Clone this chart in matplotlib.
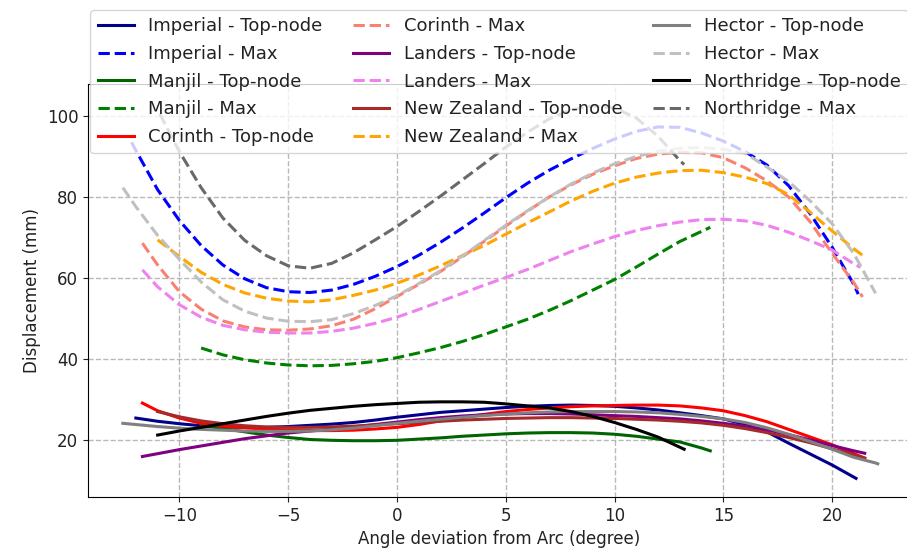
import matplotlib
matplotlib.use("Agg")
import matplotlib.pyplot as plt

# ---------------- data ----------------
imperial_top_x = [-12, -11, -10, -9, -8, -7, -6, -5, -4, -3, -2, -1, 0, 1, 2, 3, 4, 5, 6, 7, 8, 9, 10,
                  11, 12, 13, 14, 15, 16, 17, 18, 19, 20, 21, 21.1]
imperial_top_y = [25.4, 24.6, 24.0, 23.5, 23.2, 23.1, 23.1, 23.3, 23.6, 23.9, 24.3, 24.9, 25.6, 26.2, 26.8,
                  27.2, 27.6, 28.0, 28.3, 28.5, 28.6, 28.5, 28.3, 27.9, 27.4, 26.7, 26.0, 25.2, 23.8, 22.0,
                  19.2, 16.5, 13.8, 10.8, 10.5]

imperial_max_x = [-12.2, -12, -11, -10, -9, -8, -7, -6, -5, -4, -3, -2, -1, 0, 1, 2, 3, 4, 5, 6, 7, 8, 9,
                  10, 11, 12, 13, 14, 15, 16, 17, 18, 19, 20, 21, 21.2]
imperial_max_y = [93.5, 91.5, 81.8, 74.2, 68.0, 63.2, 59.8, 57.6, 56.6, 56.4, 57.0, 58.4, 60.4, 62.8, 65.6,
                  68.8, 72.3, 76.0, 79.8, 83.4, 86.6, 89.4, 92.0, 94.3, 96.2, 97.3, 97.2, 95.8, 93.8, 91.2,
                  87.9, 82.8, 75.8, 67.6, 58.4, 56.0]

manjil_top_x = [-9, -8, -7, -6, -5, -4, -3, -2, -1, 0, 1, 2, 3, 4, 5, 6, 7, 8, 9, 10, 11, 12, 13, 14, 14.4]
manjil_top_y = [23.6, 22.8, 22.0, 21.2, 20.6, 20.1, 19.9, 19.8, 19.8, 19.9, 20.2, 20.5, 20.9, 21.2, 21.5,
                21.7, 21.8, 21.8, 21.7, 21.4, 20.9, 20.2, 19.5, 18.0, 17.3]

manjil_max_x = [-9, -8, -7, -6, -5, -4, -3, -2, -1, 0, 1, 2, 3, 4, 5, 6, 7, 8, 9, 10, 11, 12, 13, 14, 14.4]
manjil_max_y = [42.7, 41.0, 39.8, 39.0, 38.5, 38.3, 38.4, 38.8, 39.4, 40.3, 41.5, 42.8, 44.3, 46.0, 47.9,
                49.8, 52.0, 54.4, 57.0, 59.6, 62.7, 65.9, 69.0, 71.5, 72.5]

corinth_top_x = [-11.7, -11, -10, -9, -8, -7, -6, -5, -4, -3, -2, -1, 0, 1, 2, 3, 4, 5, 6, 7, 8, 9, 10,
                 11, 12, 13, 14, 15, 16, 17, 18, 19, 20, 21, 21.5]
corinth_top_y = [29.1, 27.2, 25.4, 24.1, 23.4, 23.0, 22.6, 22.4, 22.3, 22.3, 22.4, 22.7, 23.1, 23.8, 24.7,
                 25.5, 26.3, 27.0, 27.5, 27.9, 28.2, 28.4, 28.5, 28.6, 28.6, 28.4, 27.9, 27.2, 26.0, 24.5,
                 22.6, 20.7, 18.8, 16.6, 15.5]

corinth_max_x = [-11.7, -11, -10, -9, -8, -7, -6, -5, -4, -3, -2, -1, 0, 1, 2, 3, 4, 5, 6, 7, 8, 9, 10,
                 11, 12, 13, 14, 15, 16, 17, 18, 19, 20, 21, 21.4]
corinth_max_y = [68.6, 63.2, 56.6, 52.3, 49.4, 47.9, 47.2, 47.1, 47.4, 48.2, 49.8, 52.4, 55.4, 58.4, 61.6,
                 65.2, 69.0, 72.8, 76.5, 80.0, 83.0, 85.6, 87.7, 89.5, 90.6, 91.0, 90.9, 89.7, 87.2, 84.0,
                 80.0, 73.8, 66.1, 58.8, 55.3]

landers_top_x = [-11.7, -11, -10, -9, -8, -7, -6, -5, -4, -3, -2, -1, 0, 1, 2, 3, 4, 5, 6, 7, 8, 9, 10,
                 11, 12, 13, 14, 15, 16, 17, 18, 19, 20, 21, 21.5]
landers_top_y = [15.9, 16.6, 17.6, 18.5, 19.4, 20.3, 21.0, 21.7, 22.2, 22.7, 23.2, 23.8, 24.4, 25.0, 25.5,
                 25.9, 26.2, 26.4, 26.5, 26.5, 26.4, 26.2, 26.0, 25.8, 25.5, 25.2, 24.7, 24.1, 23.4, 22.5,
                 21.3, 20.0, 18.6, 17.3, 16.7]

landers_max_x = [-11.7, -11, -10, -9, -8, -7, -6, -5, -4, -3, -2, -1, 0, 1, 2, 3, 4, 5, 6, 7, 8, 9, 10,
                 11, 12, 13, 14, 15, 16, 17, 18, 19, 20, 21, 21.3]
landers_max_y = [62.0, 57.8, 53.4, 50.3, 48.3, 47.2, 46.6, 46.4, 46.4, 46.8, 47.6, 48.8, 50.3, 52.2, 54.2,
                 56.2, 58.2, 60.1, 62.1, 64.3, 66.5, 68.4, 70.2, 71.7, 72.9, 73.8, 74.4, 74.5, 74.1, 73.0,
                 71.3, 69.2, 66.9, 63.5, 62.6]

nz_top_x = [-11, -10, -9, -8, -7, -6, -5, -4, -3, -2, -1, 0, 1, 2, 3, 4, 5, 6, 7, 8, 9, 10, 11, 12, 13,
            14, 15, 16, 17, 18, 19, 20, 21, 21.5]
nz_top_y = [27.0, 25.7, 24.7, 24.0, 23.5, 23.2, 23.1, 23.1, 23.2, 23.4, 23.7, 24.0, 24.3, 24.6, 24.9, 25.1,
            25.3, 25.4, 25.5, 25.5, 25.4, 25.3, 25.1, 24.9, 24.6, 24.2, 23.6, 22.8, 21.8, 20.6, 19.3, 17.8,
            16.3, 15.5]

nz_max_x = [-11, -10, -9, -8, -7, -6, -5, -4, -3, -2, -1, 0, 1, 2, 3, 4, 5, 6, 7, 8, 9, 10, 11, 12, 13,
            14, 15, 16, 17, 18, 19, 20, 21, 21.5]
nz_max_y = [69.4, 65.3, 61.4, 58.4, 56.3, 55.0, 54.3, 54.1, 54.6, 55.7, 57.0, 58.7, 60.7, 63.0, 65.5, 68.0,
            70.8, 73.6, 76.3, 79.0, 81.4, 83.4, 84.9, 85.9, 86.5, 86.6, 86.0, 84.9, 83.3, 80.6, 76.2, 71.6,
            67.2, 65.2]

hector_top_x = [-12.6, -12, -11, -10, -9, -8, -7, -6, -5, -4, -3, -2, -1, 0, 1, 2, 3, 4, 5, 6, 7, 8, 9,
                10, 11, 12, 13, 14, 15, 16, 17, 18, 19, 20, 21, 22, 22.1]
hector_top_y = [24.1, 23.8, 23.3, 22.9, 22.6, 22.4, 22.2, 22.1, 22.1, 22.2, 22.5, 22.9, 23.5, 24.1, 24.6,
                25.1, 25.6, 26.0, 26.4, 26.7, 26.9, 27.0, 27.0, 27.0, 26.9, 26.7, 26.3, 25.8, 25.2, 24.3,
                23.0, 21.4, 19.6, 17.7, 15.7, 14.3, 14.1]

hector_max_x = [-12.6, -12, -11, -10, -9, -8, -7, -6, -5, -4, -3, -2, -1, 0, 1, 2, 3, 4, 5, 6, 7, 8, 9,
                10, 11, 12, 13, 14, 15, 16, 17, 18, 19, 20, 21, 22]
hector_max_y = [82.3, 77.6, 70.5, 64.6, 59.0, 54.6, 51.8, 50.1, 49.3, 49.2, 49.7, 51.2, 53.2, 55.6, 58.6,
                61.8, 65.4, 69.2, 73.0, 76.6, 80.0, 83.2, 85.9, 88.2, 90.0, 91.3, 92.0, 92.2, 91.8, 90.8,
                87.4, 83.8, 79.0, 73.4, 66.0, 56.2]

northridge_top_x = [-11, -10, -9, -8, -7, -6, -5, -4, -3, -2, -1, 0, 1, 2, 3, 4, 5, 6, 7, 8, 9, 10, 11,
                    12, 13, 13.2]
northridge_top_y = [21.2, 22.2, 23.1, 24.0, 24.9, 25.8, 26.6, 27.3, 27.8, 28.3, 28.7, 29.0, 29.3, 29.4,
                    29.4, 29.3, 28.9, 28.4, 27.9, 27.0, 25.8, 24.3, 22.6, 20.7, 18.2, 17.7]

northridge_max_x = [-10.9, -10, -9, -8, -7, -6, -5, -4, -3, -2, -1, 0, 1, 2, 3, 4, 5, 6, 7, 8, 9, 10, 11,
                    12, 13, 13.2]
northridge_max_y = [100.5, 91.2, 82.3, 74.8, 69.3, 65.5, 63.0, 62.4, 63.6, 66.2, 69.4, 72.7, 76.4, 80.2,
                    84.2, 88.2, 92.3, 96.0, 99.3, 101.5, 102.5, 102.0, 99.5, 95.0, 89.0, 88.0]

earthquakes = ["Imperial", "Manjil", "Corinth", "Landers", "New Zealand", "Hector", "Northridge"]
series = [
    (imperial_top_x, imperial_top_y, imperial_max_x, imperial_max_y),
    (manjil_top_x, manjil_top_y, manjil_max_x, manjil_max_y),
    (corinth_top_x, corinth_top_y, corinth_max_x, corinth_max_y),
    (landers_top_x, landers_top_y, landers_max_x, landers_max_y),
    (nz_top_x, nz_top_y, nz_max_x, nz_max_y),
    (hector_top_x, hector_top_y, hector_max_x, hector_max_y),
    (northridge_top_x, northridge_top_y, northridge_max_x, northridge_max_y),
]
top_colors = ["darkblue", "darkgreen", "red", "purple", "brown", "gray", "black"]
max_colors = ["blue", "green", "salmon", "violet", "orange", "silver", "dimgray"]

x_ticks = [-10, -5, 0, 5, 10, 15, 20]
y_ticks = [20, 40, 60, 80, 100]

# ---------------- figure ----------------
W, H = 907, 556
fig = plt.figure(figsize=(W / 100, H / 100), dpi=100)
left, right, top, bottom = 88, 910, 84, 497
ax = fig.add_axes([left / W, 1 - bottom / H, (right - left) / W, (bottom - top) / H])

for name, (tx, ty, mx, my), tc, mc in zip(earthquakes, series, top_colors, max_colors):
    ax.plot(tx, ty, color=tc, lw=2.2, linestyle='-', label=f"{name} - Top-node")
    ax.plot(mx, my, color=mc, lw=2.2, linestyle='--', label=f"{name} - Max")

ax.set_xlim(-14.2, 23.58)
ax.set_ylim(5.9, 107.9)
ax.set_xticks(x_ticks)
ax.set_yticks(y_ticks)
ax.tick_params(labelsize=12, colors='#222222')
ax.grid(True, linestyle='--', color='gray', alpha=0.55, lw=1)
ax.set_xlabel("Angle deviation from Arc (degree)", fontsize=12, color='#222222')
ax.set_ylabel("Displacement (mm)", fontsize=12, color='#222222')

leg = ax.legend(ncol=3, fontsize=13, loc='upper center', labelspacing=0.54,
                columnspacing=1.7, borderaxespad=0,
                bbox_to_anchor=(499 / W, 1 - 10 / H), bbox_transform=fig.transFigure,
                framealpha=0.8)
for t in leg.get_texts():
    t.set_color('#222222')

fig.savefig("out.png", dpi=100)
